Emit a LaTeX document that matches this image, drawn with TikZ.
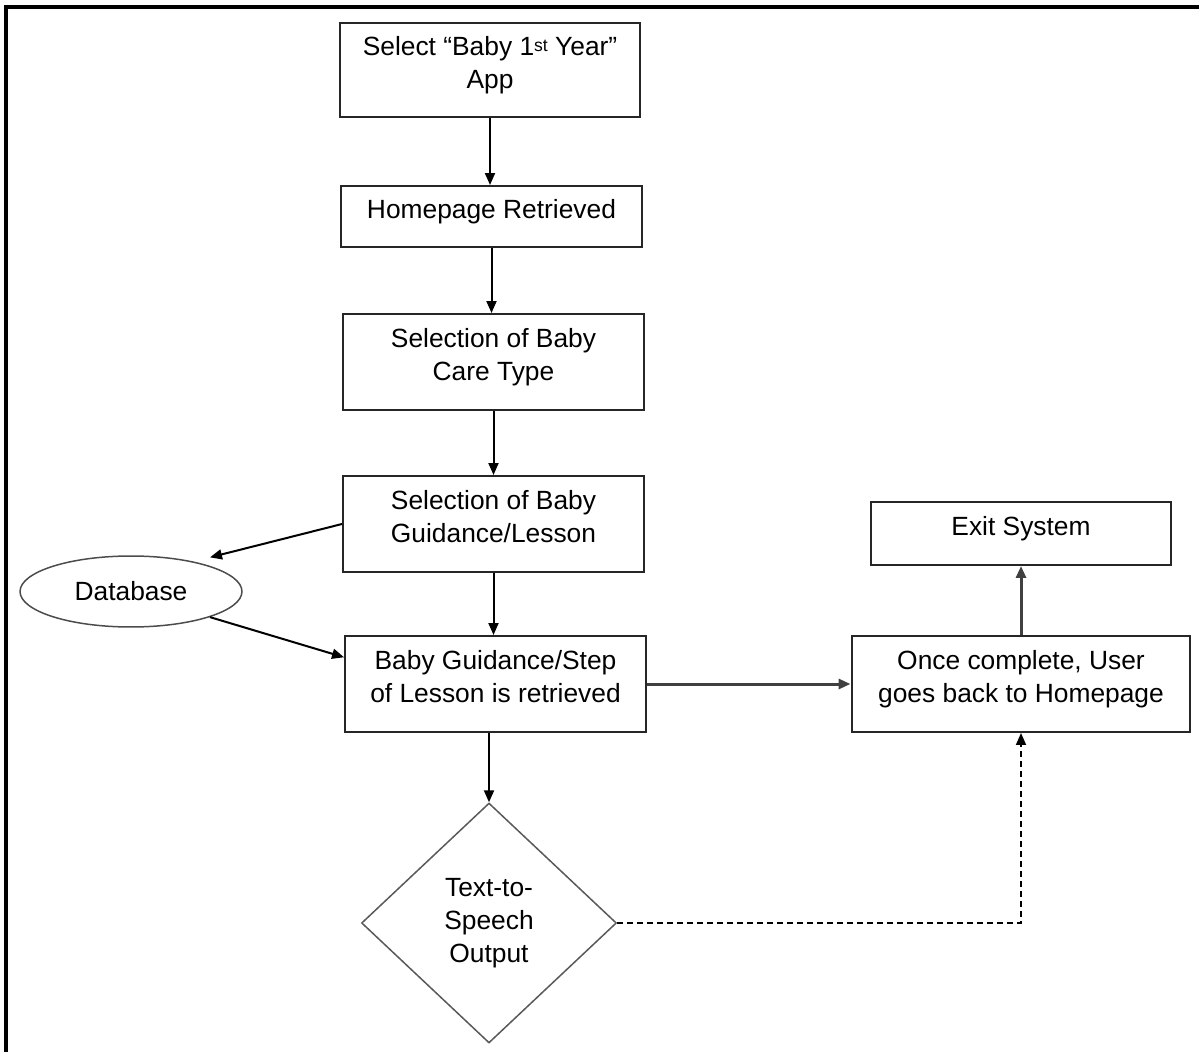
\documentclass[tikz,border=0pt]{standalone}
\usepackage{fontspec}
\setmainfont{Liberation Sans}
\usetikzlibrary{shapes.geometric,arrows.meta,positioning}

\tikzset{
  flowbox/.style={draw=black!85,line width=0.04cm,minimum width=6.02cm,inner sep=0pt,align=center,font=\fontsize{15}{18.8}\selectfont},
  arr/.style={line width=0.04cm,-{Triangle[length=0.24cm,width=0.2cm]}},
}

\begin{document}
\begin{tikzpicture}[x=0.02cm,y=-0.02cm]
	\useasboundingbox (0,0) rectangle (1199,1053);
	% frame
	\draw[line width=0.08cm] (1199,7) -- (6,7) -- (6,1052);

	% main column
	\node[flowbox,minimum height=1.88cm] (sel) at (490,70) {Select “Baby 1\raisebox{2pt}{\fontsize{10}{12}\selectfont st} Year”\\App\\[-10pt]};
	\node[flowbox,minimum height=1.22cm] (home) at (491.5,216.5) {Homepage Retrieved\\[-10pt]};
	\node[flowbox,minimum height=1.92cm] (care) at (493.5,362) {Selection of Baby\\Care Type\\[-10pt]};
	\node[flowbox,minimum height=1.92cm] (grd) at (493.5,524) {Selection of Baby\\Guidance/Lesson\\[-10pt]};
	\node[flowbox,minimum height=1.92cm] (ret) at (495.5,684) {Baby Guidance/Step\\of Lesson is retrieved\\[-10pt]};
	\node[diamond,draw=black!65,line width=0.03cm,minimum width=5.1cm,minimum height=4.8cm,inner sep=0pt,align=center,font=\fontsize{15}{18.8}\selectfont] (tts) at (489,923) {Text-to-\\Speech\\Output};

	% side nodes
	\node[ellipse,draw=black!70,line width=0.03cm,minimum width=4.44cm,minimum height=1.42cm,font=\fontsize{15}{18.8}\selectfont] (db) at (131,591.5) {Database};
	\node[flowbox,minimum height=1.26cm] (exit) at (1021,533.5) {Exit System\\[-10pt]};
	\node[flowbox,minimum width=6.78cm,minimum height=1.92cm] (once) at (1021,684) {Once complete, User\\goes back to Homepage\\[-10pt]};

	% connectors
	\draw[arr] (sel.south) -- (sel.south |- home.north);
	\draw[arr] (home.south) -- (home.south |- care.north);
	\draw[arr] (care.south) -- (care.south |- grd.north);
	\draw[arr] (grd.south) -- (grd.south |- ret.north);
	\draw[arr] (tts.north |- ret.south) -- (tts.north);
	\draw[arr] (grd.west) -- ([yshift=0.17cm]db.north east);
	\draw[arr] (db.south east) -- (ret.170);
	\draw[arr,draw=black!75,line width=0.06cm] (ret.east) -- (once.west);
	\draw[arr,draw=black!75,line width=0.06cm] (once) -- (exit);
	\draw[arr,dash pattern=on 0.12cm off 0.08cm,line width=0.035cm] (tts.east) -- (once.south |- tts.east) -- (once.south);
\end{tikzpicture}
\end{document}
